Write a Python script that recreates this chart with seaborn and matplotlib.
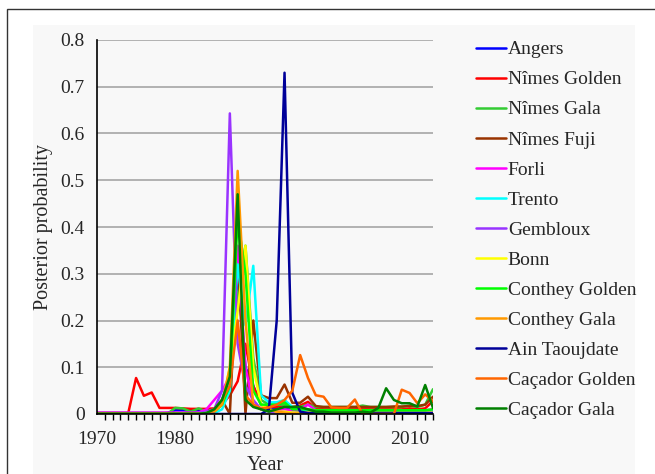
import numpy as np
import pandas as pd
import matplotlib
matplotlib.use("Agg")
import matplotlib.pyplot as plt
from matplotlib.patches import Rectangle
from matplotlib.ticker import MultipleLocator
import seaborn as sns

# Data
years = list(range(1970, 2014))

angers = [0.001, 0.001, 0.001, 0.001, 0.001, 0.001, 0.001, 0.001, 0.001, 0.002,
          0.008, 0.008, 0.007, 0.008, 0.005, 0.01, 0.03, 0.08, 0.3, 0.1,
          0.06, 0.02, 0.01, 0.01, 0.015, 0.01, 0.005, 0.005, 0.005, 0.005,
          0.008, 0.008, 0.008, 0.008, 0.005, 0.005, 0.005, 0.005, 0.005, 0.005,
          0.005, 0.005, 0.005, 0.005]
nimes_golden = [0.002, 0.002, 0.002, 0.002, 0.002, 0.077, 0.039, 0.046, 0.013, 0.013,
                0.013, 0.012, 0.011, 0.011, 0.011, 0.012, 0.02, 0.04, 0.07, 0.15,
                0.06, 0.02, 0.015, 0.015, 0.02, 0.015, 0.018, 0.026, 0.012, 0.01,
                0.01, 0.01, 0.01, 0.01, 0.01, 0.01, 0.01, 0.01, 0.01, 0.01,
                0.012, 0.01, 0.012, 0.028]
nimes_gala = [0.0, 0.0, 0.0, 0.0, 0.0, 0.0, 0.0, 0.0, 0.0, 0.0,
              0.013, 0.012, 0.005, 0.012, 0.005, 0.01, 0.02, 0.06, 0.25, 0.36,
              0.12, 0.03, 0.02, 0.02, 0.02, 0.015, 0.015, 0.02, 0.015, 0.015,
              0.015, 0.015, 0.015, 0.015, 0.018, 0.015, 0.015, 0.015, 0.015, 0.015,
              0.018, 0.015, 0.02, 0.053]
nimes_fuji = [0.002, 0.002, 0.002, 0.002, 0.002, 0.002, 0.002, 0.002, 0.002, 0.002,
              0.002, 0.002, 0.002, 0.002, 0.003, 0.01, 0.03, 0.0, 0.35, 0.0,
              0.2, 0.04, 0.034, 0.034, 0.063, 0.024, 0.024, 0.037, 0.017, 0.015,
              0.015, 0.015, 0.015, 0.015, 0.015, 0.015, 0.015, 0.015, 0.016, 0.016,
              0.017, 0.017, 0.02, 0.037]
forli = [0.003, 0.003, 0.003, 0.003, 0.003, 0.003, 0.003, 0.003, 0.003, 0.003,
         0.003, 0.003, 0.003, 0.003, 0.01, 0.03, 0.05, 0.08, 0.36, 0.1,
         0.02, 0.01, 0.008, 0.008, 0.01, 0.008, 0.01, 0.02, 0.008, 0.008,
         0.008, 0.008, 0.008, 0.008, 0.008, 0.008, 0.008, 0.008, 0.008, 0.008,
         0.008, 0.008, 0.008, 0.01]
trento = [0.001, 0.001, 0.001, 0.001, 0.001, 0.001, 0.001, 0.001, 0.001, 0.001,
          0.001, 0.001, 0.001, 0.001, 0.001, 0.002, 0.01, 0.05, 0.32, 0.19,
          0.317, 0.04, 0.025, 0.025, 0.03, 0.015, 0.01, 0.008, 0.005, 0.005,
          0.005, 0.005, 0.005, 0.005, 0.005, 0.005, 0.005, 0.005, 0.005, 0.005,
          0.005, 0.005, 0.005, 0.005]
gembloux = [0.002, 0.002, 0.002, 0.002, 0.002, 0.002, 0.002, 0.002, 0.002, 0.002,
            0.002, 0.002, 0.002, 0.002, 0.005, 0.01, 0.05, 0.643, 0.15, 0.06,
            0.03, 0.01, 0.005, 0.003, 0.003, 0.003, 0.003, 0.003, 0.003, 0.003,
            0.003, 0.003, 0.003, 0.003, 0.003, 0.003, 0.003, 0.003, 0.003, 0.003,
            0.003, 0.003, 0.003, 0.003]
bonn = [0.001, 0.001, 0.001, 0.001, 0.001, 0.001, 0.001, 0.001, 0.001, 0.001,
        0.001, 0.001, 0.001, 0.001, 0.002, 0.005, 0.02, 0.1, 0.22, 0.36,
        0.1, 0.02, 0.01, 0.005, 0.005, 0.003, 0.003, 0.003, 0.003, 0.003,
        0.003, 0.003, 0.003, 0.003, 0.003, 0.003, 0.003, 0.003, 0.003, 0.003,
        0.003, 0.003, 0.003, 0.003]
conthey_golden = [0.001, 0.001, 0.001, 0.001, 0.001, 0.001, 0.001, 0.001, 0.001, 0.001,
                  0.001, 0.001, 0.001, 0.001, 0.002, 0.005, 0.02, 0.06, 0.42, 0.3,
                  0.05, 0.02, 0.02, 0.02, 0.025, 0.01, 0.01, 0.01, 0.008, 0.008,
                  0.008, 0.008, 0.008, 0.008, 0.008, 0.008, 0.008, 0.008, 0.008, 0.008,
                  0.008, 0.008, 0.008, 0.01]
conthey_gala = [0.0, 0.0, 0.0, 0.0, 0.0, 0.0, 0.0, 0.0, 0.0, 0.0,
                0.0, 0.0, 0.0, 0.0, 0.0, 0.005, 0.02, 0.1, 0.52, 0.2,
                0.02, 0.01, 0.01, 0.005, 0.003, 0.001, 0.001, 0.001, 0.0, 0.0,
                0.0, 0.0, 0.0, 0.0, 0.0, 0.0, 0.0, 0.0, 0.0, 0.0,
                0.0, 0.0, 0.0, 0.0]
ain_taoujdate = [0.0, 0.0, 0.0, 0.0, 0.0, 0.0, 0.0, 0.0, 0.0, 0.0,
                 0.0, 0.0, 0.0, 0.0, 0.0, 0.0, 0.0, 0.0, 0.0, 0.0,
                 0.0, 0.0, 0.01, 0.2, 0.73, 0.045, 0.005, 0.002, 0.002, 0.002,
                 0.002, 0.002, 0.002, 0.002, 0.002, 0.002, 0.002, 0.002, 0.002, 0.002,
                 0.002, 0.002, 0.002, 0.002]
cacador_golden = [0.0, 0.0, 0.0, 0.0, 0.0, 0.0, 0.0, 0.0, 0.0, 0.0,
                  0.0, 0.0, 0.0, 0.0, 0.0, 0.01, 0.03, 0.06, 0.2, 0.04,
                  0.02, 0.012, 0.014, 0.02, 0.03, 0.05, 0.126, 0.077, 0.04, 0.037,
                  0.014, 0.013, 0.013, 0.031, 0.0, 0.0, 0.0, 0.0, 0.0, 0.052,
                  0.045, 0.023, 0.042, 0.027]
cacador_gala = [0.0, 0.0, 0.0, 0.0, 0.0, 0.0, 0.0, 0.0, 0.0, 0.0,
                0.0, 0.0, 0.0, 0.0, 0.002, 0.01, 0.03, 0.08, 0.47, 0.03,
                0.015, 0.01, 0.005, 0.01, 0.015, 0.015, 0.015, 0.01, 0.005, 0.005,
                0.003, 0.003, 0.003, 0.003, 0.005, 0.003, 0.013, 0.055, 0.03, 0.023,
                0.023, 0.016, 0.062, 0.013]

series = {
    "Angers": angers,
    "Nîmes Golden": nimes_golden,
    "Nîmes Gala": nimes_gala,
    "Nîmes Fuji": nimes_fuji,
    "Forli": forli,
    "Trento": trento,
    "Gembloux": gembloux,
    "Bonn": bonn,
    "Conthey Golden": conthey_golden,
    "Conthey Gala": conthey_gala,
    "Ain Taoujdate": ain_taoujdate,
    "Caçador Golden": cacador_golden,
    "Caçador Gala": cacador_gala,
}
colors = ["#0000FF", "#FF0000", "#33CC33", "#993300", "#FF00FF", "#00FFFF",
          "#9933FF", "#FFFF00", "#00FF00", "#FF9900", "#000099", "#FF6600",
          "#008000"]
names = list(series.keys())
palette = dict(zip(names, colors))

df = pd.concat(
    [pd.DataFrame({"Year": years, "Posterior probability": v, "site": k})
     for k, v in series.items()],
    ignore_index=True)

sns.set_style("white")
plt.rcParams["font.family"] = ["Liberation Serif", "DejaVu Serif"]

fig = plt.figure(figsize=(6.55, 4.74), dpi=100)
fig.patch.set_facecolor("white")
# chart area background and outer border, behind the axes
fig.patches.append(Rectangle((33 / 655, 0), 602 / 655, 1 - 25 / 474,
                             transform=fig.transFigure, facecolor="#f8f8f8",
                             edgecolor="none", zorder=-2))
fig.patches.append(Rectangle((7 / 655, -0.1), 1.2, 1.1 - 9.5 / 474,
                             transform=fig.transFigure, facecolor="none",
                             edgecolor="#333333", linewidth=1.0, zorder=-1))

ax = fig.add_axes([97 / 655, 1 - 414 / 474, 336 / 655, 374 / 474])
ax.set_facecolor("#f8f8f8")

sns.lineplot(data=df, x="Year", y="Posterior probability", hue="site",
             hue_order=names, palette=palette, linewidth=1.8,
             errorbar=None, ax=ax)

ax.set_xlim(1970, 2013)
ax.set_ylim(0, 0.8)
ax.xaxis.set_major_locator(MultipleLocator(10))
ax.xaxis.set_minor_locator(MultipleLocator(1))
ax.set_yticks(np.arange(0, 0.81, 0.1))
ax.set_yticklabels(["0"] + [f"{v:.1f}" for v in np.arange(0.1, 0.81, 0.1)])
ax.yaxis.grid(True, color="#a6a6a6", linewidth=1.2)
ax.set_axisbelow(True)
ax.tick_params(axis="both", which="both", direction="out",
               width=1, color="black", labelsize=14)
ax.tick_params(axis="x", which="major", length=4, pad=8)
ax.tick_params(axis="y", which="major", length=5, pad=4)
ax.tick_params(axis="x", which="minor", bottom=True, length=4)
for s in ["top", "right"]:
    ax.spines[s].set_visible(False)
for s in ["left", "bottom"]:
    ax.spines[s].set_color("black")
    ax.spines[s].set_linewidth(1.2)

ax.set_xlabel("Year", fontsize=14.5, labelpad=6)
ax.set_ylabel("Posterior probability", fontsize=14.5, labelpad=5)

ax.legend(loc="upper left", bbox_to_anchor=(468 / 655, 1 - 33 / 474),
          bbox_transform=fig.transFigure, frameon=False, fontsize=14,
          handlelength=1.55, handletextpad=0.1, labelspacing=0.64,
          borderaxespad=0)

fig.savefig("out.png", dpi=100, facecolor=fig.get_facecolor())
